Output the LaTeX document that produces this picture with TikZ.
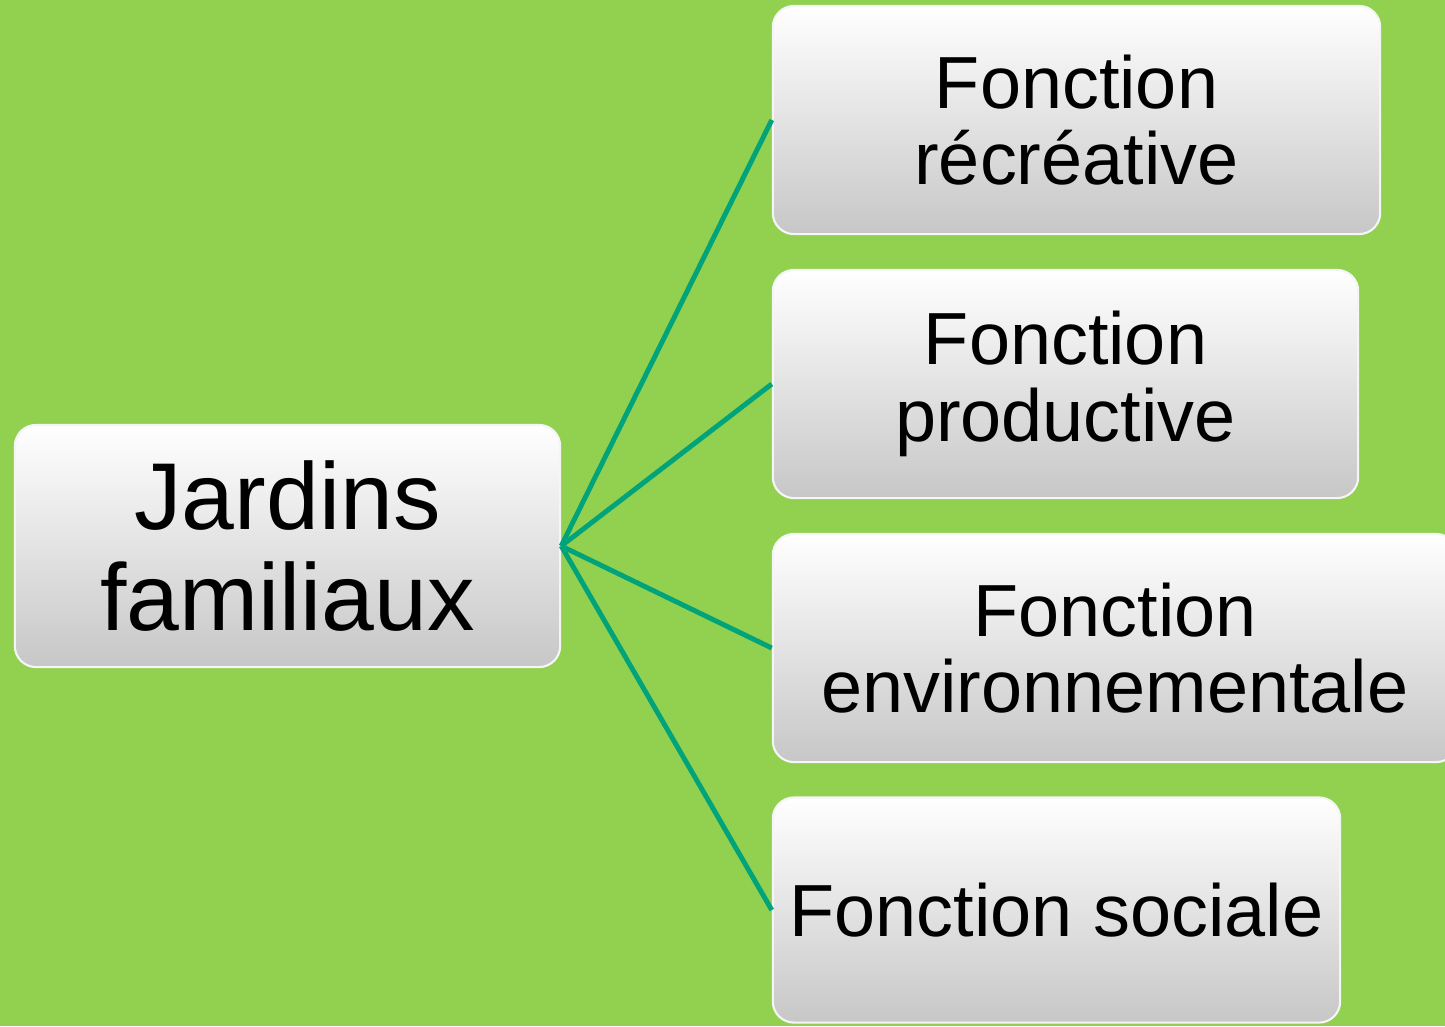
\documentclass[tikz,border=0pt]{standalone}
\usepackage{fontspec}
\setmainfont{Liberation Sans}
\definecolor{leafgreen}{RGB}{146,208,80}
\definecolor{branchteal}{RGB}{0,163,122}
\begin{document}
\begin{tikzpicture}[x=0.01cm, y=-0.01cm,
	every node/.style = {shape=rectangle, rounded corners=6pt, draw=white!92!gray, line width=0.6pt,
		top color=white, bottom color=black!22, align=center, inner sep=0pt},
	rootbox/.style = {font=\fontsize{27}{28.5}\selectfont},
	funcbox/.style = {font=\fontsize{21}{21.8}\selectfont, minimum height=2.28cm},
	branch/.style = {draw=branchteal, line width=1.4pt}]
	\useasboundingbox (0,0) rectangle (1445,1026);
	\clip (0,0) rectangle (1445,1026);
	\fill[leafgreen] (0,0) rectangle (1445,1026);
	\node[rootbox, minimum width=5.45cm, minimum height=2.42cm] (jardins) at (287.5,546) {Jardins\\familiaux};
	\node[funcbox, minimum width=6.07cm] (recreative) at (1076.5,120) {Fonction\\r\'ecr\'eative};
	\node[funcbox, minimum width=5.85cm] (productive) at (1065.5,384) {Fonction\\productive};
	\node[funcbox, minimum width=6.84cm] (environ) at (1115,648) {Fonction\\environnementale};
	\node[funcbox, minimum width=5.67cm, minimum height=2.25cm] (sociale) at (1056.5,910) {Fonction sociale};
	\draw[branch] (jardins.east) -- (recreative.west);
	\draw[branch] (jardins.east) -- (productive.west);
	\draw[branch] (jardins.east) -- (environ.west);
	\draw[branch] (jardins.east) -- (sociale.west);
\end{tikzpicture}
\end{document}
